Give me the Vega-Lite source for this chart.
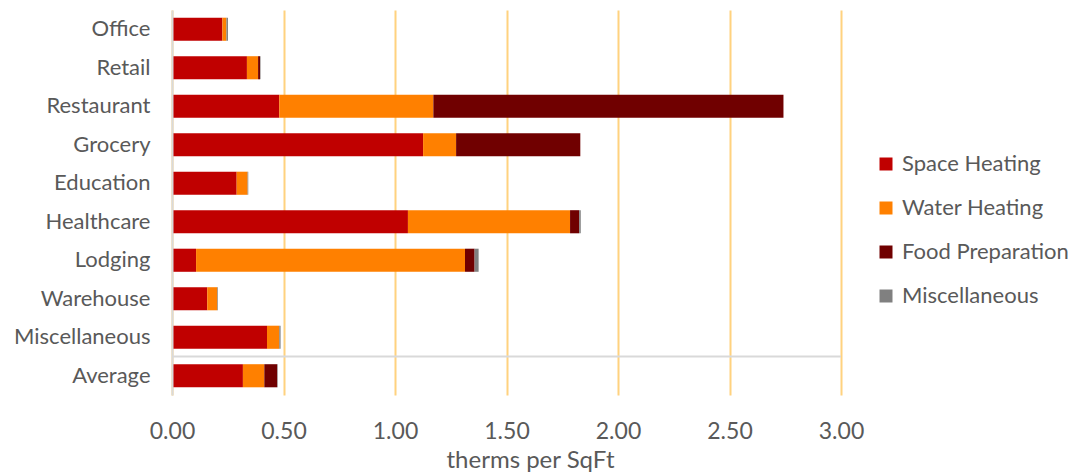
{
  "$schema": "https://vega.github.io/schema/vega-lite/v6.json",
  "autosize": "none",
  "width": 669,
  "height": 385,
  "padding": {"left": 172, "top": 10, "right": 232, "bottom": 77},
  "background": "white",
  "config": {
    "font": "Lato",
    "view": {"stroke": null}
  },
  "data": {
    "values": [
      {"b": "Office", "t": "Space Heating", "i": 1, "v": 0.226},
      {"b": "Office", "t": "Water Heating", "i": 2, "v": 0.018},
      {"b": "Office", "t": "Food Preparation", "i": 3, "v": 0},
      {"b": "Office", "t": "Miscellaneous", "i": 4, "v": 0.007},
      {"b": "Retail", "t": "Space Heating", "i": 1, "v": 0.336},
      {"b": "Retail", "t": "Water Heating", "i": 2, "v": 0.05},
      {"b": "Retail", "t": "Food Preparation", "i": 3, "v": 0.009},
      {"b": "Retail", "t": "Miscellaneous", "i": 4, "v": 0.002},
      {"b": "Restaurant", "t": "Space Heating", "i": 1, "v": 0.481},
      {"b": "Restaurant", "t": "Water Heating", "i": 2, "v": 0.691},
      {"b": "Restaurant", "t": "Food Preparation", "i": 3, "v": 1.57},
      {"b": "Restaurant", "t": "Miscellaneous", "i": 4, "v": 0},
      {"b": "Grocery", "t": "Space Heating", "i": 1, "v": 1.126},
      {"b": "Grocery", "t": "Water Heating", "i": 2, "v": 0.148},
      {"b": "Grocery", "t": "Food Preparation", "i": 3, "v": 0.557},
      {"b": "Grocery", "t": "Miscellaneous", "i": 4, "v": 0},
      {"b": "Education", "t": "Space Heating", "i": 1, "v": 0.29},
      {"b": "Education", "t": "Water Heating", "i": 2, "v": 0.049},
      {"b": "Education", "t": "Food Preparation", "i": 3, "v": 0},
      {"b": "Education", "t": "Miscellaneous", "i": 4, "v": 0.003},
      {"b": "Healthcare", "t": "Space Heating", "i": 1, "v": 1.058},
      {"b": "Healthcare", "t": "Water Heating", "i": 2, "v": 0.727},
      {"b": "Healthcare", "t": "Food Preparation", "i": 3, "v": 0.041},
      {"b": "Healthcare", "t": "Miscellaneous", "i": 4, "v": 0.007},
      {"b": "Lodging", "t": "Space Heating", "i": 1, "v": 0.108},
      {"b": "Lodging", "t": "Water Heating", "i": 2, "v": 1.206},
      {"b": "Lodging", "t": "Food Preparation", "i": 3, "v": 0.043},
      {"b": "Lodging", "t": "Miscellaneous", "i": 4, "v": 0.018},
      {"b": "Warehouse", "t": "Space Heating", "i": 1, "v": 0.158},
      {"b": "Warehouse", "t": "Water Heating", "i": 2, "v": 0.045},
      {"b": "Warehouse", "t": "Food Preparation", "i": 3, "v": 0},
      {"b": "Warehouse", "t": "Miscellaneous", "i": 4, "v": 0.003},
      {"b": "Miscellaneous", "t": "Space Heating", "i": 1, "v": 0.426},
      {"b": "Miscellaneous", "t": "Water Heating", "i": 2, "v": 0.055},
      {"b": "Miscellaneous", "t": "Food Preparation", "i": 3, "v": 0},
      {"b": "Miscellaneous", "t": "Miscellaneous", "i": 4, "v": 0.006},
      {"b": "Average", "t": "Space Heating", "i": 1, "v": 0.318},
      {"b": "Average", "t": "Water Heating", "i": 2, "v": 0.096},
      {"b": "Average", "t": "Food Preparation", "i": 3, "v": 0.058},
      {"b": "Average", "t": "Miscellaneous", "i": 4, "v": 0.002}
    ]
  },
  "layer": [
    {
      "mark": {"type": "bar"},
      "encoding": {
        "y": {
          "field": "b", "type": "nominal",
          "sort": ["Office", "Retail", "Restaurant", "Grocery", "Education", "Healthcare", "Lodging", "Warehouse", "Miscellaneous", "Average"],
          "scale": {"paddingInner": 0.4, "paddingOuter": 0.2},
          "axis": {
            "title": null, "ticks": false, "domainColor": "#D9D9D9", "domainWidth": 2, "zindex": 1,
            "labelFontSize": 22, "labelColor": "#595959", "labelPadding": 22, "labelFont": "Lato"
          }
        },
        "x": {
          "field": "v", "type": "quantitative", "stack": "zero",
          "scale": {"domain": [0, 3], "nice": false},
          "axis": {
            "title": "therms per SqFt", "values": [0, 0.5, 1, 1.5, 2, 2.5, 3], "format": ".2f",
            "domain": false, "ticks": false, "grid": true, "gridColor": "#FFD27F", "gridWidth": 2,
            "labelFontSize": 23, "labelColor": "#595959", "labelPadding": 25, "labelFlush": false,
            "titleFontSize": 24, "titleFontWeight": "normal", "titleColor": "#595959", "titlePadding": 5,
            "titleX": 358
          }
        },
        "color": {
          "field": "t", "type": "nominal",
          "scale": {
            "domain": ["Space Heating", "Water Heating", "Food Preparation", "Miscellaneous"],
            "range": ["#C00000", "#FF8000", "#700000", "#808080"]
          },
          "legend": {
            "title": null, "orient": "none", "legendX": 703, "legendY": 143,
            "symbolType": "square", "symbolSize": 169, "symbolStrokeWidth": 0,
            "labelFontSize": 22, "labelColor": "#595959", "rowPadding": 22, "labelOffset": 5, "labelLimit": 0
          }
        },
        "order": {"field": "i", "type": "quantitative"}
      }
    },
    {
      "data": {"values": [{"b": "Average", "x0": 0, "x1": 3}]},
      "mark": {"type": "rule", "color": "#D9D9D9", "strokeWidth": 2, "yOffset": -7.7},
      "encoding": {
        "y": {
          "field": "b", "type": "nominal", "bandPosition": 0,
          "sort": ["Office", "Retail", "Restaurant", "Grocery", "Education", "Healthcare", "Lodging", "Warehouse", "Miscellaneous", "Average"]
        },
        "x": {"field": "x0", "type": "quantitative"},
        "x2": {"field": "x1"}
      }
    }
  ]
}
